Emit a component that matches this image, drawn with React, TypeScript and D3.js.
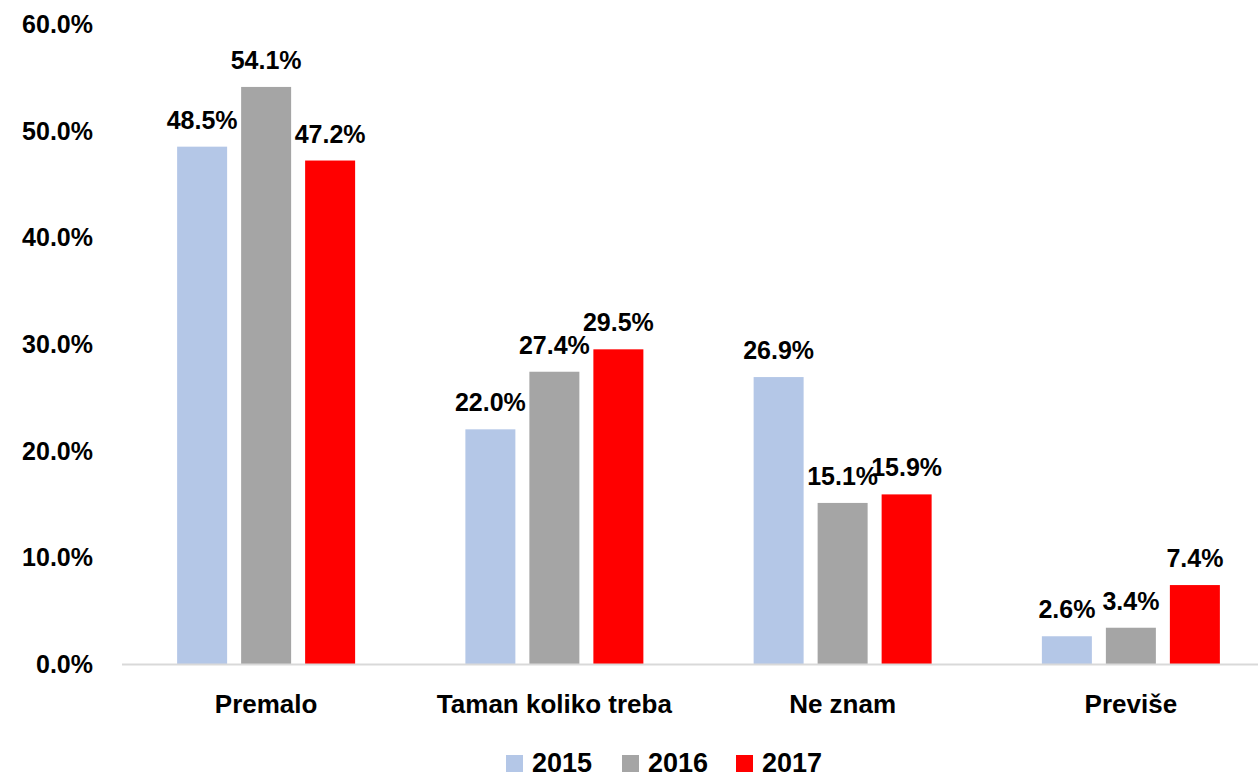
import React from "react";
import * as d3 from "d3";

const categories = ["Premalo", "Taman koliko treba", "Ne znam", "Previše"];
const years = ["2015", "2016", "2017"];
const values2015 = [48.5, 22.0, 26.9, 2.6];
const values2016 = [54.1, 27.4, 15.1, 3.4];
const values2017 = [47.2, 29.5, 15.9, 7.4];
const yTicks = [0, 10, 20, 30, 40, 50, 60];
const colors = ["#b4c7e7", "#a5a5a5", "#ff0000"];

const W = 1258;
const H = 778;
const FONT = "'Liberation Sans', Arial, sans-serif";

export default function App() {
  const series = [values2015, values2016, values2017];
  const y = d3.scaleLinear().domain([0, 60]).range([664, 24]);
  const x = d3.scaleBand<string>().domain(categories).range([122, 1275]).padding(0);
  const xs = d3.scaleBand<string>().domain(years).range([-89, 89]).paddingInner(14 / 64).paddingOuter(0);
  const fmt = (v: number) => v.toFixed(1) + "%";

  const legendX = [506, 622, 736];

  return (
    <div style={{ position: "absolute", left: 0, top: 0 }}>
      <svg width={W} height={H} style={{ display: "block", fontFamily: FONT, fontWeight: "bold" }}>
        <rect width={W} height={H} fill="#ffffff" />
        {yTicks.map((t) => (
          <text key={t} x={93} y={y(t) + 9} textAnchor="end" fontSize={25} fill="#000">
            {fmt(t)}
          </text>
        ))}
        {categories.map((c, ci) => {
          const cx = (x(c) as number) + x.bandwidth() / 2;
          return (
            <g key={c}>
              {years.map((yr, si) => {
                const v = series[si][ci];
                const bx = cx + (xs(yr) as number);
                return (
                  <g key={yr}>
                    <rect x={bx} y={y(v)} width={xs.bandwidth()} height={y(0) - y(v)} fill={colors[si]} />
                    <text x={bx + xs.bandwidth() / 2} y={y(v) - 18} textAnchor="middle" fontSize={25} fill="#000">
                      {fmt(v)}
                    </text>
                  </g>
                );
              })}
              <text x={cx} y={713} textAnchor="middle" fontSize={26} fill="#000">
                {c}
              </text>
            </g>
          );
        })}
        <line x1={122} x2={W} y1={y(0) + 0.5} y2={y(0) + 0.5} stroke="#d9d9d9" strokeWidth={2} />
        {years.map((yr, i) => (
          <g key={yr}>
            <rect x={legendX[i]} y={755} width={17} height={17} fill={colors[i]} />
            <text x={legendX[i] + 26} y={772} fontSize={27} fill="#000">
              {yr}
            </text>
          </g>
        ))}
      </svg>
    </div>
  );
}
